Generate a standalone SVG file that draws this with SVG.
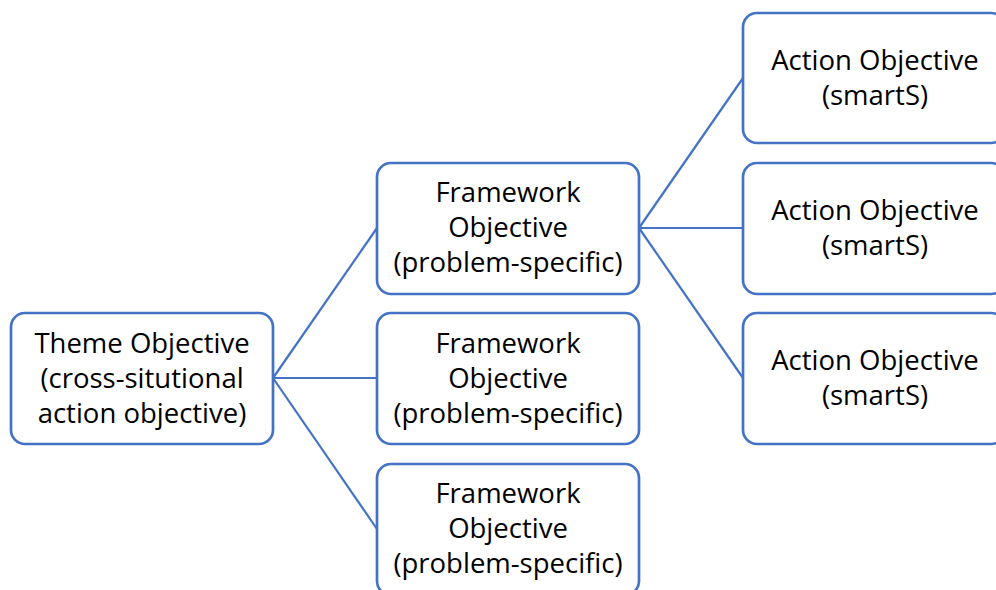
<svg xmlns="http://www.w3.org/2000/svg" width="996" height="590" viewBox="0 0 996 590">
<style>
.box{fill:#fff;stroke:#4472C4;stroke-width:2.7}
.ln{stroke:#4472C4;stroke-width:2.2;fill:none}
text{font-family:"Open Sans","Noto Sans",sans-serif;font-size:27.5px;fill:#000;text-anchor:middle}
</style>
<rect width="996" height="590" fill="#fff"/>
<g id="connectors">
<line class="ln" x1="273" y1="378" x2="377" y2="228"/>
<line class="ln" x1="273" y1="378" x2="377" y2="378"/>
<line class="ln" x1="273" y1="378" x2="377" y2="529"/>
<line class="ln" x1="639" y1="228" x2="743" y2="78"/>
<line class="ln" x1="639" y1="228" x2="743" y2="228"/>
<line class="ln" x1="639" y1="228" x2="743" y2="378"/>
</g>
<g id="theme">
<rect class="box" x="11" y="313" width="262" height="131" rx="14"/>
<text x="142" y="353">Theme Objective</text>
<text x="142" y="388">(cross-situtional</text>
<text x="142" y="423">action objective)</text>
</g>
<g id="framework1">
<rect class="box" x="377" y="163" width="262" height="131" rx="14"/>
<text x="508" y="202">Framework</text>
<text x="508" y="237">Objective</text>
<text x="508" y="272">(problem-specific)</text>
</g>
<g id="framework2">
<rect class="box" x="377" y="313" width="262" height="131" rx="14"/>
<text x="508" y="353">Framework</text>
<text x="508" y="388">Objective</text>
<text x="508" y="423">(problem-specific)</text>
</g>
<g id="framework3">
<rect class="box" x="377" y="464" width="262" height="131" rx="14"/>
<text x="508" y="503">Framework</text>
<text x="508" y="538">Objective</text>
<text x="508" y="573">(problem-specific)</text>
</g>
<g id="action1">
<rect class="box" x="743" y="13" width="262" height="130" rx="14"/>
<text x="875" y="70">Action Objective</text>
<text x="875" y="105">(smartS)</text>
</g>
<g id="action2">
<rect class="box" x="743" y="163" width="262" height="131" rx="14"/>
<text x="875" y="220">Action Objective</text>
<text x="875" y="255">(smartS)</text>
</g>
<g id="action3">
<rect class="box" x="743" y="313" width="262" height="131" rx="14"/>
<text x="875" y="370">Action Objective</text>
<text x="875" y="405">(smartS)</text>
</g>
</svg>
